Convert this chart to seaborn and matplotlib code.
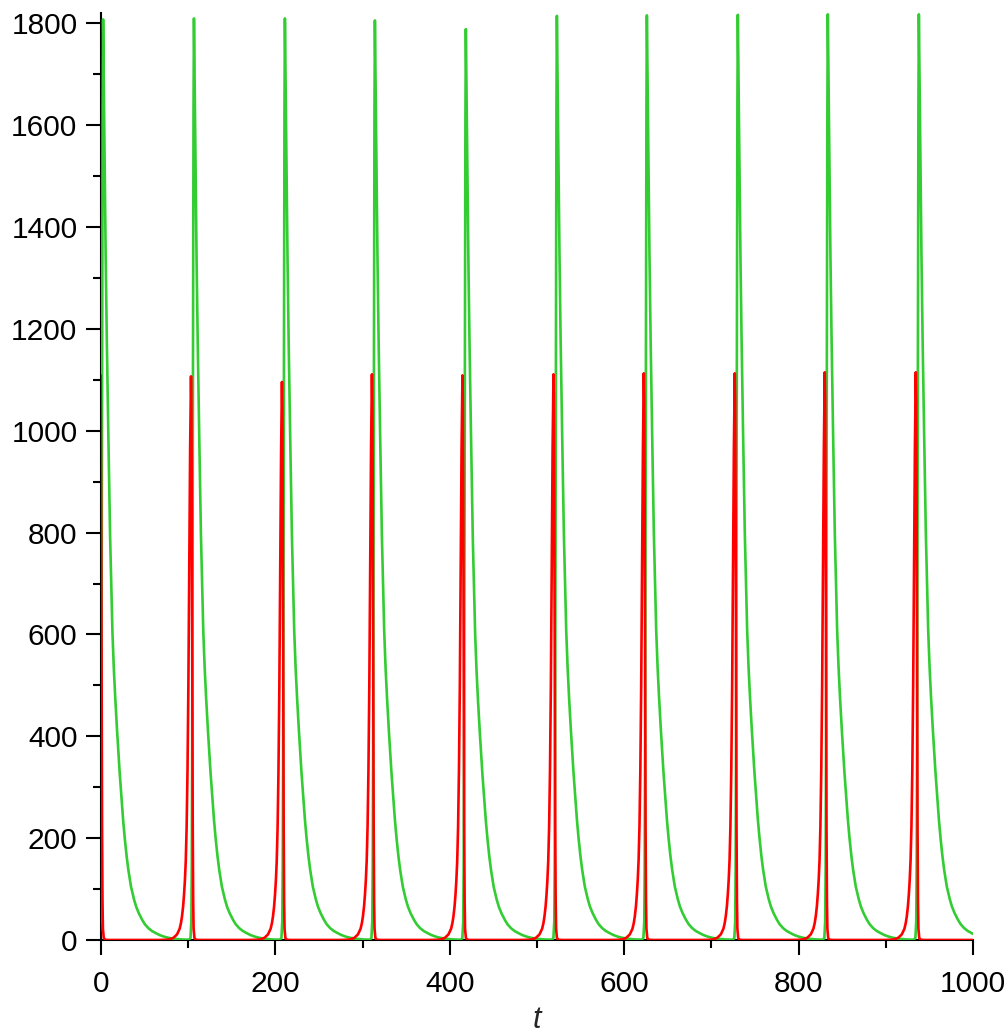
import numpy as np
import pandas as pd
import matplotlib
matplotlib.use("Agg")
import matplotlib.pyplot as plt
import seaborn as sns
from matplotlib.ticker import MultipleLocator

# ---- data ----
# green series (predator): peak times and heights
green_peak_t = [2.4, 106.6, 210.9, 314.1, 418.4, 522.8, 626.0, 730.3, 833.5, 937.9]
green_peak_v = [1808, 1810, 1810, 1806, 1789, 1815, 1816, 1817, 1818, 1818]
# shape of one green pulse (offset from peak, fraction of peak height)
green_off = [-6.0, -4.0, -3.0, -2.5, -2.0, -1.5, -1.0, -0.5, 0.0, 1.0, 2.0, 3.0,
             4.3, 6.0, 8.0, 10.7, 12.3, 14.0, 16.0, 17.5, 19.0, 21.4, 23.0, 24.9,
             27.0, 29.0, 32.0, 35.5, 38.0, 41.0, 45.0, 48.0, 52.0, 56.0, 60.4,
             65.0, 70.0, 75.0, 80.0, 90.0, 97.0]
green_frac = [0.0003, 0.002, 0.02, 0.08, 0.22, 0.45, 0.70, 0.90, 1.0, 0.91, 0.82, 0.74,
              0.65, 0.55, 0.44, 0.335, 0.295, 0.262, 0.228, 0.205, 0.182, 0.150, 0.130,
              0.110, 0.091, 0.076, 0.058, 0.044, 0.036, 0.029, 0.0216, 0.017, 0.0128,
              0.0098, 0.0075, 0.0053, 0.0036, 0.0024, 0.0015, 0.0006, 0.0003]

# red series (prey): peak times and heights
red_peak_t = [-0.8, 103.2, 207.5, 310.7, 414.5, 518.9, 622.5, 726.8, 830.0, 934.4]
red_peak_v = [1110, 1107, 1096, 1111, 1109, 1111, 1113, 1113, 1115, 1115]
red_off = [-38.0, -30.0, -25.0, -20.0, -16.0, -13.0, -11.5, -10.3, -9.0, -8.0, -7.0,
           -6.0, -5.0, -4.0, -3.0, -2.0, -1.0, 0.0, 0.5, 1.0, 1.5, 2.0, 2.5, 3.0,
           4.0, 6.0, 10.0, 65.0]
red_frac = [0.0, 0.0003, 0.001, 0.004, 0.01, 0.02, 0.03, 0.042, 0.06, 0.08, 0.105,
            0.14, 0.2, 0.3, 0.45, 0.65, 0.87, 1.0, 0.95, 0.75, 0.45, 0.2, 0.07, 0.02,
            0.003, 0.0003, 0.0, 0.0]

x_ticks = [0, 200, 400, 600, 800, 1000]
y_ticks = [0, 200, 400, 600, 800, 1000, 1200, 1400, 1600, 1800]


def build(peaks_t, peaks_v, off, frac):
    ts, vs = [], []
    for pt, pv in zip(peaks_t, peaks_v):
        for o, f in zip(off, frac):
            ts.append(pt + o)
            vs.append(pv * f)
    return pd.DataFrame({"t": ts, "value": vs})


green_df = build(green_peak_t, green_peak_v, green_off, green_frac)
red_df = build(red_peak_t, red_peak_v, red_off, red_frac)

sns.set_theme(style="white")
plt.rcParams["font.family"] = ["Liberation Sans", "DejaVu Sans"]

fig = plt.figure(figsize=(10.08, 10.34), dpi=100)
ax = fig.add_axes([101 / 1008, 1 - 940 / 1034, 872 / 1008, (940 - 13.3) / 1034])

sns.lineplot(data=green_df, x="t", y="value", color="#33CC33", linewidth=1.9,
             estimator=None, sort=False, ax=ax, zorder=3)
sns.lineplot(data=red_df, x="t", y="value", color="#FF0000", linewidth=1.9,
             estimator=None, sort=False, ax=ax, zorder=4)

ax.set_xlim(0, 1000)
ax.set_ylim(0, 1820)
ax.set_xticks(x_ticks)
ax.set_yticks(y_ticks)
ax.xaxis.set_minor_locator(MultipleLocator(100))
ax.yaxis.set_minor_locator(MultipleLocator(100))
ax.tick_params(axis="both", which="major", direction="out", length=10.5, width=1.5,
               color="black", labelsize=21.5, labelcolor="black")
ax.tick_params(axis="both", which="minor", direction="out", length=6, width=1.5,
               color="black")
ax.tick_params(axis="x", which="both", bottom=True, pad=11)
ax.tick_params(axis="y", which="both", left=True, pad=6.5)

for s in ["top", "right"]:
    ax.spines[s].set_visible(False)
for s in ["left", "bottom"]:
    ax.spines[s].set_color("black")
    ax.spines[s].set_linewidth(1.5)
ax.grid(False)
ax.set_ylabel("")
ax.set_xlabel("t", fontsize=22, fontstyle="italic", labelpad=5)

fig.savefig("out.png", dpi=100)
